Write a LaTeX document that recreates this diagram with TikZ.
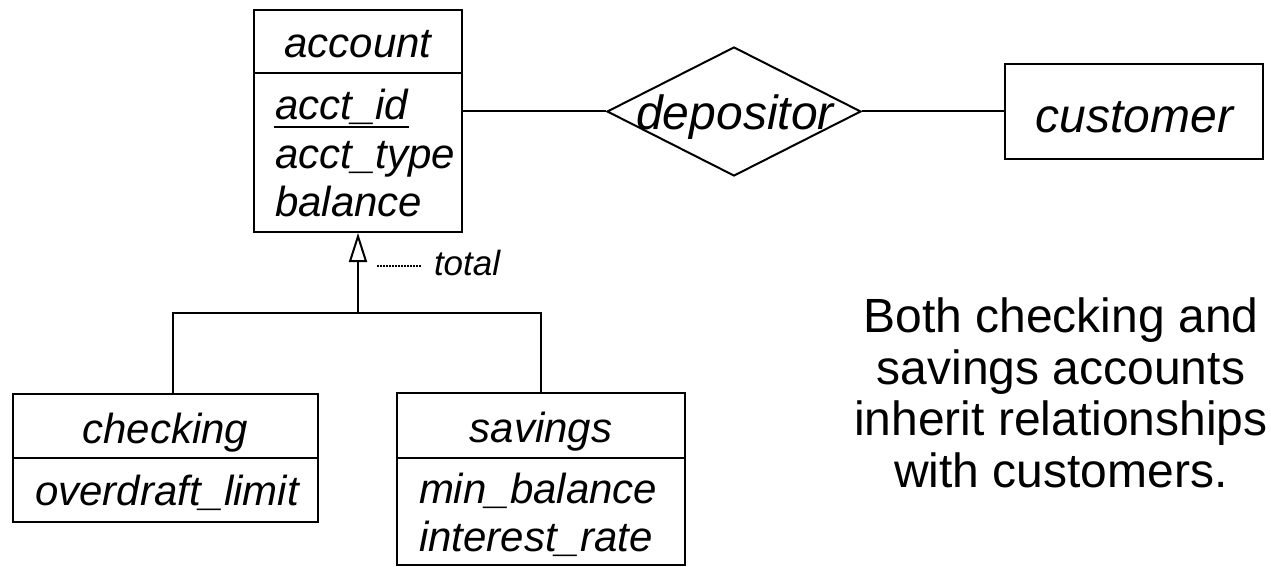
\documentclass[tikz,border=0pt]{standalone}
\usepackage{fontspec}
\setmainfont{Liberation Sans}
\usetikzlibrary{arrows.meta,shapes.geometric}

\begin{document}
\begin{tikzpicture}[x=1pt,y=-1pt,
  line width=2pt,
  box/.style={draw, rectangle, inner sep=0pt},
  rel/.style={draw, diamond, inner sep=0pt},
  ename/.style={font=\itshape\fontsize{42}{48}\selectfont, inner sep=0pt, anchor=base},
  attr/.style={font=\itshape\fontsize{42}{48}\selectfont, inner sep=0pt, anchor=base west},
  big/.style={font=\itshape\fontsize{48}{52}\selectfont, inner sep=0pt, anchor=base},
  isa/.style={-{Triangle[open,length=29pt,width=18pt,line width=2pt]}},
]
\useasboundingbox (0,0) rectangle (1271,567);

% account entity
\node[box, minimum width=208pt, minimum height=63pt]  (acchead) at (358,41.5) {};
\node[box, minimum width=208pt, minimum height=159pt] (accbody) at (358,152.5) {};
\node[ename] (accname) at (358,58) {account};
\node[attr] (accid)   at (274,120) {acct\_id};
\node[attr] (acctype) at (274,168) {acct\_type};
\node[attr] (accbal)  at (274,216) {balance};
\draw[line width=1.8pt] ([yshift=-7pt]accid.base west) -- ([yshift=-7pt]accid.base east);

% depositor relationship and customer entity
\node[rel, minimum width=254pt, minimum height=129pt] (dep) at (734,111.5) {};
\node[big] (depname) at (735,129) {depositor};
\node[box, minimum width=258pt, minimum height=95pt] (cust) at (1134,111.5) {};
\node[big] (custname) at (1134.5,132) {customer};
\draw (dep.west -| accbody.east) -- (dep.west);
\draw (dep.east) -- (cust.west);

% checking entity
\node[box, minimum width=305pt, minimum height=64pt] (chkhead) at (165.5,426) {};
\node[box, minimum width=305pt, minimum height=64pt] (chkbody) at (165.5,490) {};
\node[ename] (chkname) at (165.5,443) {checking};
\node[attr]  (chkod)   at (34,505) {overdraft\_limit};

% savings entity
\node[box, minimum width=288pt, minimum height=65pt]  (savhead) at (541,425.5) {};
\node[box, minimum width=288pt, minimum height=107pt] (savbody) at (541,511.5) {};
\node[ename] (savname) at (541,442) {savings};
\node[attr]  (savmin)  at (418,503.5) {min\_balance};
\node[attr]  (savint)  at (418,551.5) {interest\_rate};

% specialization
\coordinate (isajoin) at (358,313);
\coordinate (chkjoin) at (173,313);
\coordinate (savjoin) at (541,313);
\draw (chkjoin |- chkhead.north) -- (chkjoin) -- (savjoin) -- (savjoin |- savhead.north);
\draw[isa] (isajoin) -- (isajoin |- accbody.south);
\coordinate (totstart) at (377,266);
\coordinate (totend) at (422,266);
\draw[line width=1.5pt, dash pattern=on 1.5pt off 1.5pt] (totstart) -- (totend);
\node[font=\itshape\fontsize{35}{40}\selectfont, inner sep=0pt, anchor=base west] (total) at (433,275) {total};

% note
\node[align=center, font=\fontsize{48}{51.5}\selectfont, inner sep=0pt, anchor=base] (note) at (1061,487)
  {Both checking and\\savings accounts\\inherit relationships\\with customers.};
\end{tikzpicture}
\end{document}
